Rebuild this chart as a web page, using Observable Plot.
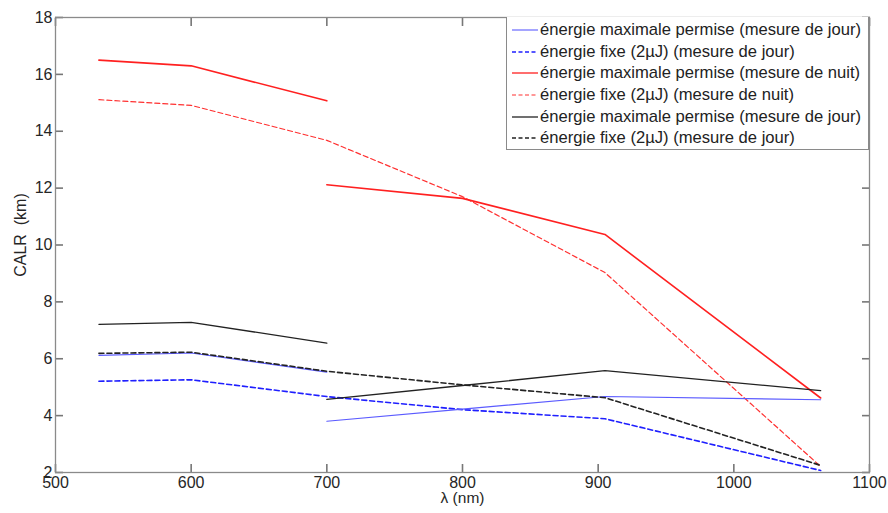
<!DOCTYPE html>
<html>
<head>
<meta charset="utf-8">
<script src="https://cdn.jsdelivr.net/npm/d3@7"></script>
<script src="https://cdn.jsdelivr.net/npm/@observablehq/plot@0.6"></script>
<style>
  body { margin: 0; background: #fff; font-family: "Liberation Sans", Arial, sans-serif; }
  #wrap { position: relative; width: 888px; height: 513px; }
  #legend { position: absolute; left: 506px; top: 17px; width: 363px; height: 133px; border: 1px solid #8a8a8a; border-top: none; background: #fff; box-sizing: border-box; padding-top: 2px; }
  .row { display: flex; align-items: center; height: 21.7px; font-size: 16.6px; color: #222; white-space: nowrap; }
  .row svg { margin-left: 5px; margin-right: 2px; }
</style>
</head>
<body>
<div id="wrap"><div id="legend"></div></div>
<script>
// wavelengths (nm)
const lambdaA = [532, 600, 700];
const lambdaB = [700, 800, 905, 1064];
const lambdaAll = [532, 600, 700, 800, 905, 1064];

// CALR (km)
const jourMaxA_blue = [6.12, 6.20, 5.53];
const jourMaxB_blue = [3.80, 4.23, 4.67, 4.56];
const jourFixe_blue = [5.21, 5.26, 4.67, 4.21, 3.89, 2.07];
const nuitMaxA = [16.50, 16.30, 15.07];
const nuitMaxB = [12.12, 11.64, 10.37, 4.62];
const nuitFixe = [15.11, 14.91, 13.68, 11.70, 9.03, 2.21];
const jourMaxA_black = [7.21, 7.28, 6.55];
const jourMaxB_black = [4.57, 5.06, 5.58, 4.88];
const jourFixe_black = [6.19, 6.23, 5.56, 5.08, 4.63, 2.25];

const xTicks = [500, 600, 700, 800, 900, 1000, 1100];
const yTicks = [2, 4, 6, 8, 10, 12, 14, 16, 18];

const seriesNames = [
  "énergie maximale permise (mesure de jour)",
  "énergie fixe (2µJ) (mesure de jour)",
  "énergie maximale permise (mesure de nuit)",
  "énergie fixe (2µJ) (mesure de nuit)",
  "énergie maximale permise (mesure de jour)",
  "énergie fixe (2µJ) (mesure de jour)"
];
const seriesStyle = [
  {stroke: "#5b5bff", width: 1.1, dash: null},
  {stroke: "#1f1fff", width: 1.6, dash: "5,3"},
  {stroke: "#ff2020", width: 1.6, dash: null},
  {stroke: "#ff3030", width: 1.2, dash: "5,3"},
  {stroke: "#222222", width: 1.3, dash: null},
  {stroke: "#222222", width: 1.6, dash: "5,3"}
];

function rows(xs, ys, seg) { return xs.map((x, i) => ({lambda: x, calr: ys[i], seg})); }
const seriesData = [
  [...rows(lambdaA, jourMaxA_blue, "a"), ...rows(lambdaB, jourMaxB_blue, "b")],
  rows(lambdaAll, jourFixe_blue, "a"),
  [...rows(lambdaA, nuitMaxA, "a"), ...rows(lambdaB, nuitMaxB, "b")],
  rows(lambdaAll, nuitFixe, "a"),
  [...rows(lambdaA, jourMaxA_black, "a"), ...rows(lambdaB, jourMaxB_black, "b")],
  rows(lambdaAll, jourFixe_black, "a")
];

const order = [3, 2, 1, 0, 5, 4];
const lineMarks = order.map(i => Plot.line(seriesData[i], {
  x: "lambda", y: "calr", z: "seg",
  stroke: seriesStyle[i].stroke, strokeWidth: seriesStyle[i].width,
  strokeDasharray: seriesStyle[i].dash || undefined
}));

const W = 888, H = 513, mL = 55, mR = 19, mT = 17, mB = 41, tk = 8;
const tickStroke = "#777777";

const chart = Plot.plot({
  width: W, height: H,
  marginLeft: mL, marginRight: mR, marginTop: mT, marginBottom: mB,
  style: {fontFamily: "'Liberation Sans', Arial, sans-serif", fontSize: "16px", color: "#262626", background: "#fff"},
  x: {domain: [500, 1100]},
  y: {domain: [2, 18]},
  marks: [
    Plot.axisX(xTicks, {anchor: "bottom", tickSize: 0, tickPadding: 4, label: null, fill: "#262626", tickFormat: d => String(d)}),
    Plot.axisY(yTicks, {anchor: "left", tickSize: 0, tickPadding: 3, label: null, fill: "#262626", tickFormat: d => String(d)}),
    // inward ticks on all four sides (axis ticks shifted inside the frame)
    Plot.axisX(xTicks, {anchor: "bottom", tickSize: tk, dy: -tk, text: null, label: null, stroke: tickStroke, strokeWidth: 1.6}),
    Plot.axisX(xTicks, {anchor: "top", tickSize: tk, dy: tk, text: null, label: null, stroke: tickStroke, strokeWidth: 1.6}),
    Plot.axisY(yTicks, {anchor: "left", tickSize: tk, dx: tk, text: null, label: null, stroke: tickStroke, strokeWidth: 1.6}),
    Plot.axisY(yTicks, {anchor: "right", tickSize: tk, dx: -tk, text: null, label: null, stroke: tickStroke, strokeWidth: 1.6}),
    ...lineMarks,
    Plot.frame({stroke: "#8a8a8a", strokeWidth: 1.3}),
    Plot.text(["λ (nm)"], {frameAnchor: "bottom", dy: 30, fontSize: 15.5, fill: "#262626"}),
    Plot.text(["CALR  (km)"], {frameAnchor: "left", textAnchor: "middle", dx: -35, dy: -10, rotate: -90, fontSize: 16, fill: "#262626"})
  ]
});
const wrap = document.getElementById("wrap");
wrap.insertBefore(chart, wrap.firstChild);

const legend = document.getElementById("legend");
seriesNames.forEach((name, i) => {
  const s = seriesStyle[i];
  const row = document.createElement("div");
  row.className = "row";
  row.innerHTML = `<svg width="26" height="10"><line x1="0" x2="26" y1="5" y2="5" stroke="${s.stroke}" stroke-width="${Math.min(s.width,1.3)}" ${s.dash ? 'stroke-dasharray="4,2.5"' : ''}/></svg><span>${name}</span>`;
  legend.appendChild(row);
});
</script>
</body>
</html>
